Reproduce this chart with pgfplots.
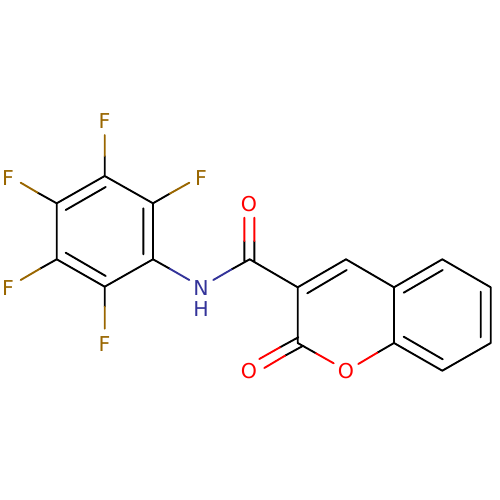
\documentclass[border=0pt]{standalone}
\usepackage{pgfplots}
\usepackage{fontspec}
\setmainfont{DejaVu Sans}
\pgfplotsset{compat=1.18}
\definecolor{fc}{HTML}{996600}
\definecolor{nc}{HTML}{333399}
\definecolor{oc}{HTML}{FF0000}
\newcommand{\atom}[4]{\node[text=#1,inner sep=0pt,font=\fontsize{20.5}{20.5}\selectfont] at (axis cs:#2,#3) {#4};}
\begin{document}
\begin{tikzpicture}
\begin{axis}[
 at={(0,0)},anchor=south west,
 scale only axis,width=500pt,height=500pt,xmin=0,xmax=500,ymin=0,ymax=500,y dir=reverse,
 hide axis,clip=false,unbounded coords=jump,
 every axis plot/.append style={line width=1.9pt,line cap=round,line join=round,no markers}]
% black bonds
\addplot[black] coordinates {
(104.7,176)(153,203.3)(153,259.3)(104.7,286.7)(56.7,259.3)(56.7,203.3)(104.7,176)(nan,nan)
(65.7,210)(105.7,187)(nan,nan)
(65.7,252.7)(105.7,276)(nan,nan)
(143.3,208.3)(143.3,254.3)(nan,nan)
(104.7,176)(104.7,156)(nan,nan)
(153,203.3)(169.7,193.7)(nan,nan)
(56.7,203.3)(37.7,192.7)(nan,nan)
(56.7,259.3)(40,268.7)(nan,nan)
(104.7,286.7)(104.7,306.7)(nan,nan)
(153,259.3)(169.7,268.7)(nan,nan)
(231.7,269.3)(249.7,259.3)(297.7,287.3)(346,259.3)(394,287.3)(442.3,259.3)(490.7,287.3)(490.7,343)(442.3,370.7)(394,343)(394,287.3)(nan,nan)
(297.7,287.3)(297.7,343)(316,353.3)(nan,nan)
(377.3,352.7)(394,343)(nan,nan)
(307.3,293.3)(346.7,270)(nan,nan)
(403.7,292.7)(442.7,270)(nan,nan)
(480.7,291.7)(480.7,337.3)(nan,nan)
(403.7,336.7)(442.7,359.3)(nan,nan)
(244.3,261)(244.3,241)(nan,nan)
(254.3,261)(254.3,241)(nan,nan)
(280,347.3)(298.3,337.3)(nan,nan)
(285,355.7)(303.3,345.7)(nan,nan)
};
% fluorine bonds
\addplot[fc] coordinates {
(104.7,156)(104.7,135)(nan,nan)
(169.7,193.7)(189.3,182.7)(nan,nan)
(37.7,192.7)(20.7,182.7)(nan,nan)
(40,268.7)(20.7,280)(nan,nan)
(104.7,306.7)(104.7,328.7)(nan,nan)
};
% nitrogen bonds
\addplot[nc] coordinates {
(169.7,268.7)(189.3,280)(nan,nan)
(213.3,280)(231.7,269.3)(nan,nan)
};
% oxygen bonds
\addplot[oc] coordinates {
(244.3,241)(244.3,217.7)(nan,nan)
(254.3,241)(254.3,217.7)(nan,nan)
(280,347.3)(259.3,359)(nan,nan)
(285,355.7)(264.3,368)(nan,nan)
(316,353.3)(333.7,363.3)(nan,nan)
(358.3,364)(377.3,352.7)(nan,nan)
};
\atom{fc}{104.5}{121}{F}
\atom{fc}{201}{178}{F}
\atom{fc}{8}{178}{F}
\atom{fc}{8}{288.3}{F}
\atom{fc}{104.5}{344.3}{F}
\atom{nc}{201}{288}{N}
\atom{nc}{201}{309.3}{H}
\atom{oc}{249}{204.3}{O}
\atom{oc}{249}{371}{O}
\atom{oc}{346}{371}{O}
\end{axis}
\path[use as bounding box] (0,0) rectangle (500pt,500pt);
\end{tikzpicture}
\end{document}
